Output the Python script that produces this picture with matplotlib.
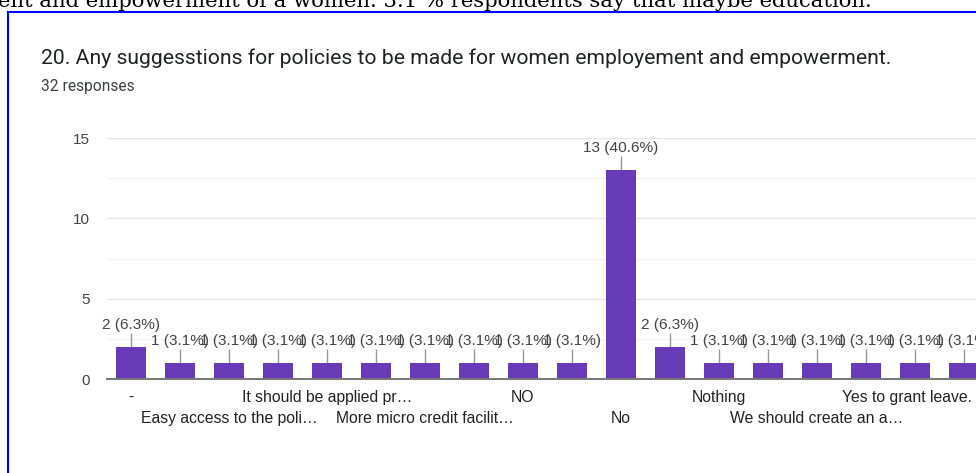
from decimal import Decimal, ROUND_HALF_UP

import matplotlib.pyplot as plt
from matplotlib.lines import Line2D

# Answers to question 20, in the order the form lists them
categories = [
    "-", "", "Easy access to the poli…", "", "It should be applied pr…", "",
    "More micro credit facilit…", "", "NO", "", "No", "", "Nothing", "",
    "We should create an a…", "", "Yes to grant leave.", "",
]
counts = [2, 1, 1, 1, 1, 1, 1, 1, 1, 1, 13, 2, 1, 1, 1, 1, 1, 1]
yticks = [0, 5, 10, 15]

title = "20. Any suggesstions for policies to be made for women employement and empowerment."
subtitle = "32 responses"
header = "ent and empowerment of a women. 3.1 % respondents say that maybe education."

BAR = "#673ab7"
TEXT = "#444444"
W, H = 976, 473


def pct(v, total):
    p = Decimal(v * 100) / Decimal(total)
    return p.quantize(Decimal("0.1"), rounding=ROUND_HALF_UP)


fig = plt.figure(figsize=(W / 100, H / 100), dpi=100)
fig.patch.set_facecolor("white")

# page text running above the embedded form screenshot
fig.text(-2 / W, 1 - 7 / H, header, family="DejaVu Serif", fontsize=15.2,
         color="black", ha="left", va="baseline")
box = dict(color="#0000ff", lw=1.5, transform=fig.transFigure)
fig.add_artist(Line2D([8 / W, 1], [1 - 12 / H] * 2, **box))
fig.add_artist(Line2D([8 / W] * 2, [0, 1 - 12 / H], **box))

fig.text(41 / W, 1 - 58 / H, title, family="Roboto", fontsize=15.2,
         color="#202124", ha="left", va="center")
fig.text(41 / W, 1 - 87 / H, subtitle, family="Roboto", fontsize=11.2,
         color="#3c4043", ha="left", va="center")

ax = fig.add_axes([106.5 / W, 94 / H, 882 / W, 241 / H])
x = list(range(len(counts)))
ax.bar(x, counts, width=0.61, color=BAR, zorder=3)
ax.set_xlim(-0.5, len(counts) - 0.5)
ax.set_ylim(0, 15)

ax.set_yticks(yticks)
ax.set_yticks([2.5, 7.5, 12.5], minor=True)
ax.tick_params(axis="y", which="both", length=0, pad=12, labelsize=11,
               labelcolor=TEXT)
for lab in ax.get_yticklabels():
    lab.set_family("Liberation Sans")
ax.grid(axis="y", which="major", color="#e6e6e6", lw=1, zorder=0)
ax.grid(axis="y", which="minor", color="#f3f3f3", lw=1, zorder=0)
ax.set_xticks([])
for side in ("left", "right", "top"):
    ax.spines[side].set_visible(False)
ax.spines["bottom"].set_color("#777777")
ax.spines["bottom"].set_linewidth(1.4)
ax.spines["bottom"].set_zorder(4)

# category labels, staggered over two rows; keep them inside the frame
renderer = fig.canvas.get_renderer()
for i, name in enumerate(categories):
    if not name:
        continue
    row = (i // 2) % 2
    t = ax.annotate(name, xy=(i, 0), xycoords=("data", "axes fraction"),
                    xytext=(0, -18 - 21 * row), textcoords="offset pixels",
                    ha="center", va="center", fontsize=11.3, color="#222222",
                    family="Liberation Sans")
    overflow = t.get_window_extent(renderer).x1 - (W - 4)
    if overflow > 0:
        t.set_position((-overflow, -18 - 21 * row))

# value labels with short leader lines
total = sum(counts)
for i, v in enumerate(counts):
    ax.vlines(i, v, v + 0.88, color="#999999", lw=1, zorder=2)
    ax.text(i, v + 0.95, f"{v} ({pct(v, total)}%)", ha="center",
            va="bottom", fontsize=11.1, color=TEXT, family="Liberation Sans",
            zorder=5)

fig.savefig("out.png", dpi=100)
